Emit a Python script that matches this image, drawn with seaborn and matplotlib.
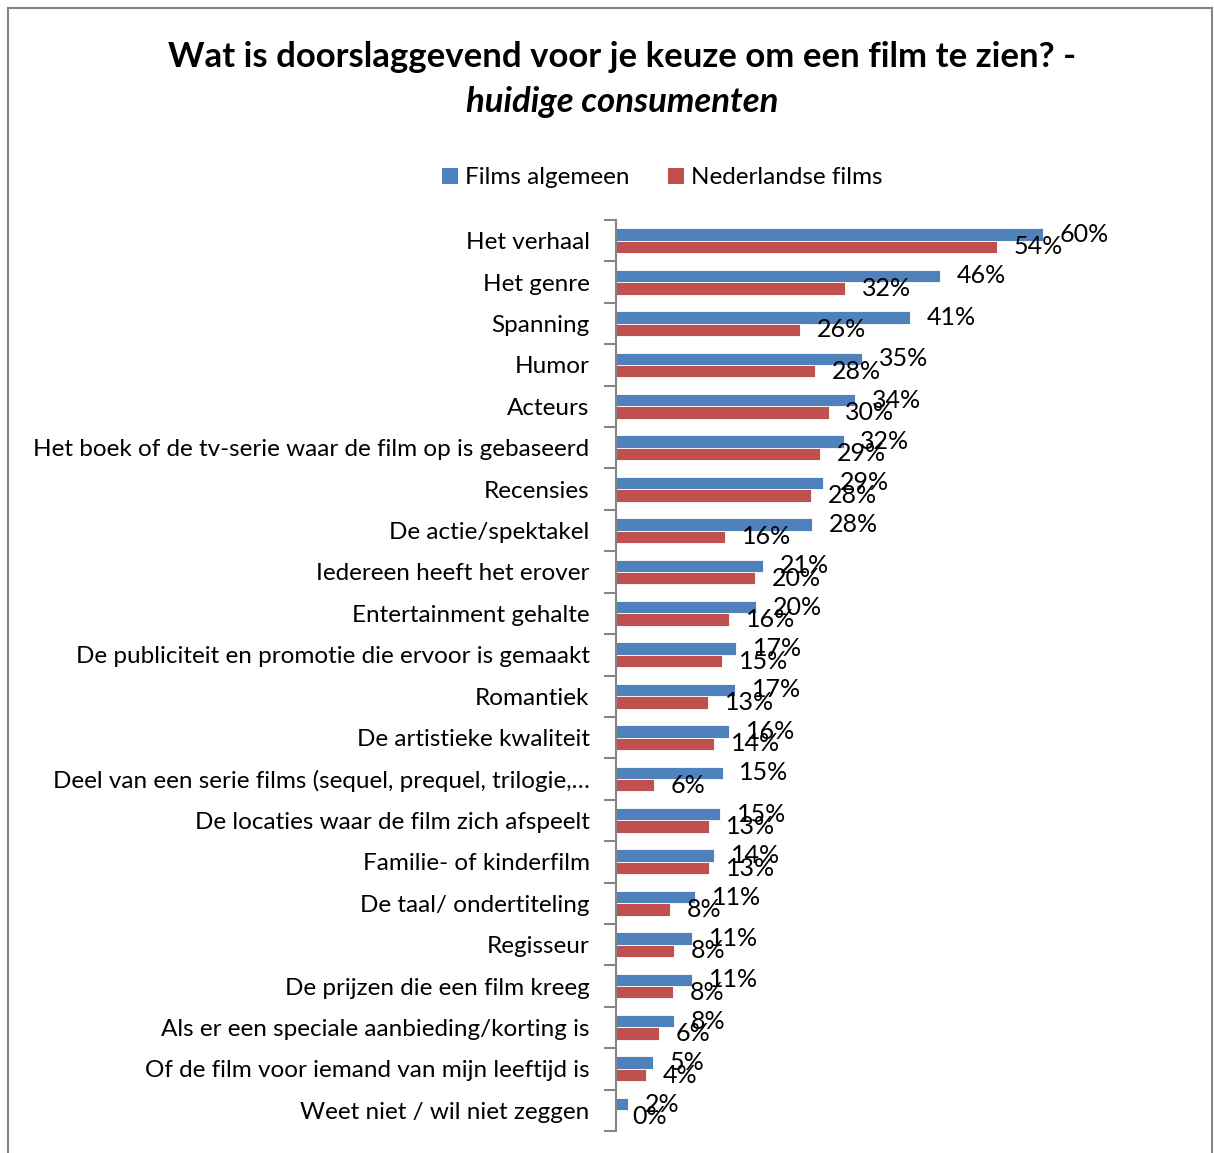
import matplotlib
matplotlib.use("Agg")
import matplotlib.pyplot as plt
import seaborn as sns
import pandas as pd
from matplotlib.patches import Rectangle, Patch

categories = [
    "Het verhaal", "Het genre", "Spanning", "Humor", "Acteurs",
    "Het boek of de tv-serie waar de film op is gebaseerd", "Recensies",
    "De actie/spektakel", "Iedereen heeft het erover", "Entertainment gehalte",
    "De publiciteit en promotie die ervoor is gemaakt", "Romantiek",
    "De artistieke kwaliteit",
    "Deel van een serie films (sequel, prequel, trilogie,\u2026",
    "De locaties waar de film zich afspeelt", "Familie- of kinderfilm",
    "De taal/ ondertiteling", "Regisseur", "De prijzen die een film kreeg",
    "Als er een speciale aanbieding/korting is",
    "Of de film voor iemand van mijn leeftijd is", "Weet niet / wil niet zeggen",
]
films_algemeen = [60.0, 45.5, 41.3, 34.6, 33.6, 32.0, 29.1, 27.6, 20.7, 19.7,
                  16.9, 16.7, 15.9, 15.0, 14.6, 13.8, 11.1, 10.7, 10.7, 8.1, 5.2, 1.7]
nederlandse_films = [53.5, 32.2, 25.9, 28.0, 29.9, 28.7, 27.4, 15.3, 19.5, 15.9,
                     14.9, 12.9, 13.8, 5.3, 13.1, 13.1, 7.6, 8.1, 8.0, 6.0, 4.2, 0.0]
labels_algemeen = [60, 46, 41, 35, 34, 32, 29, 28, 21, 20, 17, 17, 16, 15, 15, 14, 11, 11, 11, 8, 5, 2]
labels_nederlandse = [54, 32, 26, 28, 30, 29, 28, 16, 20, 16, 15, 13, 14, 6, 13, 13, 8, 8, 8, 6, 4, 0]
series_names = ["Films algemeen", "Nederlandse films"]
colors = ["#4F81BD", "#C0504D"]

df = pd.DataFrame({
    "category": categories * 2,
    "value": films_algemeen + nederlandse_films,
    "series": [series_names[0]] * len(categories) + [series_names[1]] * len(categories),
})

sns.set_theme(style="white")
plt.rcParams["font.family"] = ["Lato", "DejaVu Sans"]
plt.rcParams["text.color"] = "black"

W, H = 1214, 1153
fig = plt.figure(figsize=(W / 100, H / 100), dpi=100)

# axes geometry (pixels)
x0, px_per = 616, 7.117
xmax = 75.0
ax_left = x0 / W
ax_w = xmax * px_per / W
y_top, y_bot = 220, 1131
ax = fig.add_axes([ax_left, 1 - y_bot / H, ax_w, (y_bot - y_top) / H])

sns.barplot(data=df, x="value", y="category", hue="series", palette=colors,
            orient="h", width=0.6, ax=ax, legend=False, saturation=1,
            edgecolor="white", linewidth=0.6)

ax.set_xlim(0, xmax)
ax.set_ylim(len(categories) - 0.5, -0.5)
ax.set_xlabel("")
ax.set_ylabel("")
ax.set_xticks([])
for s in ["top", "right", "bottom"]:
    ax.spines[s].set_visible(False)
ax.spines["left"].set_color("#868686")
ax.spines["left"].set_linewidth(1.5)

ax.set_yticks(range(len(categories)))
ax.set_yticklabels(categories, fontsize=17.5, color="black")
ax.tick_params(axis="y", which="major", length=0, pad=19)
ax.set_yticks([i - 0.5 for i in range(len(categories) + 1)], minor=True)
ax.tick_params(axis="y", which="minor", left=True, length=8.5, width=1.5,
               color="#868686", direction="out")

for cont, labs in zip(ax.containers, [labels_algemeen, labels_nederlandse]):
    ax.bar_label(cont, labels=[f"{v}%" for v in labs], padding=12, fontsize=18, color="black")

# legend
handles = [Patch(facecolor=c, edgecolor="none") for c in colors]
fig.legend(handles, series_names, loc="center", bbox_to_anchor=(662 / W, 1 - 178 / H),
           ncol=2, frameon=False, fontsize=17.5, handlelength=0.68, handleheight=0.68,
           handletextpad=0.25, columnspacing=1.6, labelcolor="black")

# title
fig.text(622 / W, 1 - 57 / H, "Wat is doorslaggevend voor je keuze om een film te zien? -",
         ha="center", va="center", fontsize=25, fontweight="bold", color="black")
fig.text(622 / W, 1 - 102 / H, "huidige consumenten", ha="center", va="center",
         fontsize=25, fontweight="bold", fontstyle="italic", color="black")

# outer frame
fig.patches.append(Rectangle((8 / W, -0.05), (1212 - 8) / W, 1.05 - 8 / H,
                             transform=fig.transFigure, fill=False,
                             edgecolor="#868686", linewidth=1.5))

fig.savefig("out.png", dpi=100)
